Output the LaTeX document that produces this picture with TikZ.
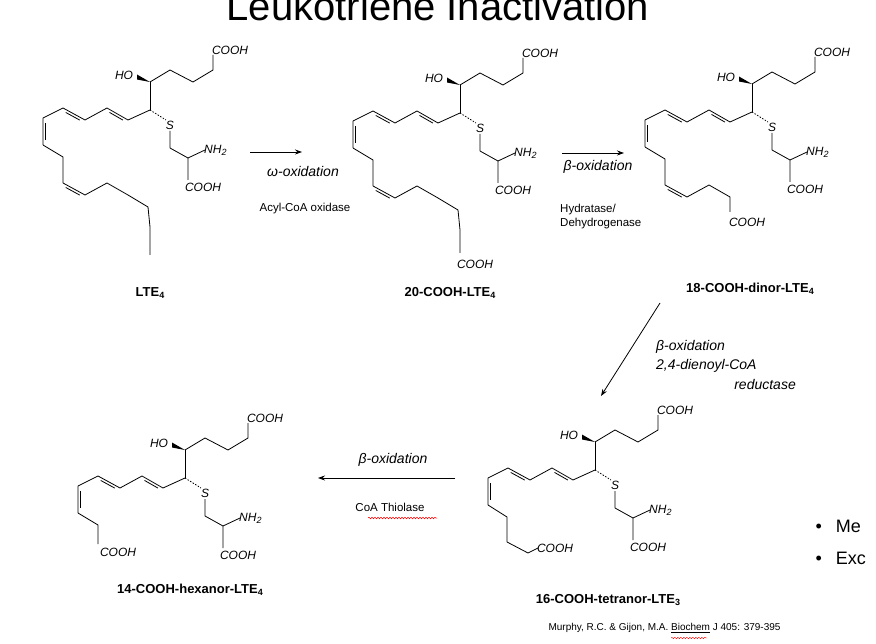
\documentclass[tikz,border=0pt]{standalone}
\usepackage{fontspec}
\setmainfont{Liberation Sans}
\usetikzlibrary{decorations.pathmorphing,arrows.meta,calc}
\tikzset{
 bond/.style={line width=0.8pt, line join=round},
 grp/.style={font=\itshape\fontsize{12}{12}\selectfont, inner sep=0pt},
 nm/.style={font=\bfseries\fontsize{13}{13}\selectfont, inner sep=0pt},
 enz/.style={font=\fontsize{11.5}{14}\selectfont, inner sep=0pt},
 rx/.style={font=\itshape\fontsize{14}{15}\selectfont, inner sep=0pt},
 arr/.style={-{Stealth[length=7pt,width=5pt]}, line width=0.8pt}
}
\newcommand{\sbs}[1]{\raisebox{-0.35ex}{\fontsize{9}{9}\selectfont #1}}
\newcommand{\db}[3]{\draw[bond] ($(#1)!.18!(#2)!2.6pt!#3:(#2)$) -- ($(#2)!.18!(#1)!2.6pt!-#3:(#1)$);}
\newcommand{\lcore}{%
 \draw[bond] (0,-28) -- (0,0);
 \fill (0,-28) -- (-13,-30.5) -- (-13,-35.5) -- cycle;
 \draw[bond] (0,-28) -- (20,-40) -- (43,-28) -- (63,-40) -- (63,-55);
 \node[grp] at (80,-60) {COOH};
 \node[grp] at (-26,-35) {HO};
 \draw[bond,dash pattern=on 1.5pt off 1.5pt] (0,0) -- (16,10);
 \node[grp] at (20,15) {S};
 \draw[bond] (20,21) -- (20,38) -- (38,48) -- (38,70);
 \draw[bond] (38,48) -- (55,40);
 \node[grp,anchor=west] at (54,40) {NH\sbs{2}};
 \node[grp] at (53,77) {COOH};
 \draw[bond] (0,0) -- (-22,10) -- (-43,-2) -- (-65,10) -- (-87,-2) -- (-107,8) -- (-107,35);
 \db{-22,10}{-43,-2}{90}
 \db{-65,10}{-87,-2}{90}
 \db{-107,8}{-107,35}{90}
}
\begin{document}
\begin{tikzpicture}[x=1pt,y=-1pt]
\useasboundingbox (0,0) rectangle (876,644);
\fill[white] (0,0) rectangle (876,644);
\clip (0,0) rectangle (876,644);
\node[font=\fontsize{40}{40}\selectfont] (title) at (438,6) {Leukotriene Inactivation};

\begin{scope}[shift={(150,110)}]
\lcore
\draw[bond] (-107,35) -- (-87,47) -- (-87,73) -- (-65,85) -- (-43,73) -- (-22,85) -- (-2,97) -- (0,117) -- (0,145);
\db{-87,73}{-65,85}{-90}
\end{scope}
\node[nm] (n1) at (150,293) {LTE\sbs{4}};

\begin{scope}[shift={(460,113)}]
\lcore
\draw[bond] (-107,35) -- (-87,47) -- (-87,73) -- (-65,85) -- (-43,73) -- (-22,85) -- (-2,97) -- (0,117) -- (0,140);
\db{-87,73}{-65,85}{-90}
\node[grp] at (15,151) {COOH};
\end{scope}
\node[nm] (n2) at (450,293) {20-COOH-LTE\sbs{4}};

\begin{scope}[shift={(752,112)}]
\lcore
\draw[bond] (-107,35) -- (-87,47) -- (-87,73) -- (-65,85) -- (-43,73) -- (-22,85) -- (-22,100);
\db{-87,73}{-65,85}{-90}
\node[grp] at (-5,110) {COOH};
\end{scope}
\node[nm] (n3) at (750,289) {18-COOH-dinor-LTE\sbs{4}};

\begin{scope}[shift={(595,470)}]
\lcore
\draw[bond] (-107,35) -- (-88,47) -- (-88,72) -- (-67,83) -- (-57,78);
\node[grp] at (-40,78) {COOH};
\end{scope}
\node[nm] (n5) at (608,600) {16-COOH-tetranor-LTE\sbs{3}};

\begin{scope}[shift={(185,478)}]
\lcore
\draw[bond] (-107,35) -- (-87,47) -- (-87,66);
\node[grp] at (-67,74) {COOH};
\end{scope}
\node[nm] (n4) at (190,590) {14-COOH-hexanor-LTE\sbs{4}};

\coordinate (a1s) at (250,152); \coordinate (a1e) at (302,152);
\draw[arr] (a1s) -- (a1e);
\node[rx] (r1) at (303,172) {ω-oxidation};
\node[enz] (e1) at (305,209) {Acyl-CoA oxidase};

\coordinate (a2s) at (562,153); \coordinate (a2e) at (624,153);
\draw[arr] (a2s) -- (a2e);
\node[rx] (r2) at (598,167) {β-oxidation};
\node[enz,anchor=west,align=left] (e2) at (560,217) {Hydratase/\\Dehydrogenase};

\coordinate (a3s) at (660,303); \coordinate (a3e) at (601,396);
\draw[arr] (a3s) -- (a3e);
\node[rx,anchor=west] (r3) at (656,347) {β-oxidation};
\node[rx,anchor=west] (r3b) at (656,366) {2,4-dienoyl-CoA};
\node[rx,anchor=east] (r3c) at (796,385) {reductase};

\coordinate (a4s) at (455,478); \coordinate (a4e) at (318,478);
\draw[arr] (a4s) -- (a4e);
\node[rx] (r4) at (393,460) {β-oxidation};
\node[enz] (e4) at (390,507) {CoA Thiolase};
\draw[red,line width=0.5pt,decorate,decoration={snake,amplitude=0.8pt,segment length=3pt}] (368,518) -- (437,518);

\node[font=\fontsize{18}{18}\selectfont,anchor=west] (b1) at (812,526) {\textbullet\hspace{14pt}Me};
\node[font=\fontsize{18}{18}\selectfont,anchor=west] (b2) at (812,558) {\textbullet\hspace{14pt}Exc};

\node[font=\fontsize{10}{10}\selectfont,anchor=west] (cit) at (545,628) {Murphy, R.C. \& Gijon, M.A. \underline{Biochem} J 405: 379-395};
\draw[red,line width=0.4pt,decorate,decoration={snake,amplitude=0.7pt,segment length=3pt}] (671,638) -- (707,638);
\end{tikzpicture}
\end{document}
